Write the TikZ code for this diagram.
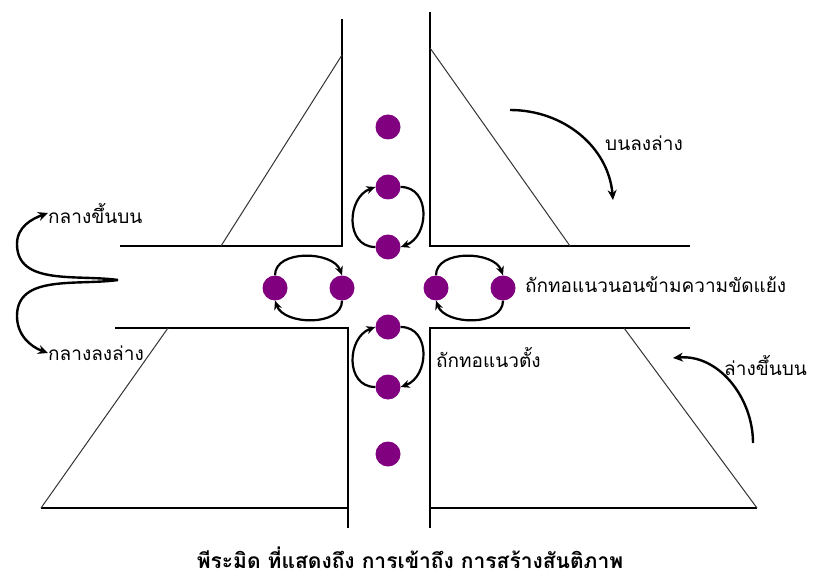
\documentclass[tikz,border=0pt]{standalone}
\usepackage{fontspec}
\newfontfamily\thai[Script=Thai]{Loma}
\usetikzlibrary{arrows.meta}
\begin{document}
\begin{tikzpicture}[x=1pt,y=1pt,
  wall/.style={line width=1.4pt,black},
  slant/.style={line width=1pt,black!80},
  dot/.style={circle,fill=purpdot,minimum size=25pt,inner sep=0pt},
  cyc/.style={line width=2.2pt,-{Stealth[length=9pt,width=8pt]}},
  bigarr/.style={line width=2.4pt,-{Stealth[length=10pt,width=9pt]}},
  lab/.style={font=\thai\fontsize{19}{21}\selectfont,inner sep=0pt,anchor=west}]
\definecolor{purpdot}{RGB}{128,0,128}
\useasboundingbox (0,0) rectangle (818,579);
% structure
\draw[wall] (342,560) -- (342,333) -- (120,333);
\draw[slant] (221,333) -- (342,524);
\draw[wall] (115,251) -- (348,251) -- (348,51);
\draw[wall] (41,71) -- (348,71);
\draw[slant] (41,71) -- (168,251);
\draw[wall] (430,567) -- (430,333) -- (690,333);
\draw[slant] (430,531) -- (570,333);
\draw[wall] (690,251) -- (430,251) -- (430,51);
\draw[wall] (430,71) -- (757,71);
\draw[slant] (624,251) -- (757,71);
% dots
\node[dot] (c0) at (388,452) {};
\node[dot] (v1) at (388,392) {};
\node[dot] (v2) at (388,332) {};
\node[dot] (u1) at (388,252) {};
\node[dot] (u2) at (388,192) {};
\node[dot] (c5) at (388,125) {};
\node[dot] (h1) at (275,291) {};
\node[dot] (h2) at (342,291) {};
\node[dot] (r1) at (436,291) {};
\node[dot] (r2) at (503,291) {};
% circulating arrows
\draw[cyc] (v2.west) to[out=180,in=200,looseness=1.3] (v1.west);
\draw[cyc] (v1.east) to[out=0,in=20,looseness=1.3] (v2.east);
\draw[cyc] (u2.west) to[out=180,in=200,looseness=1.3] (u1.west);
\draw[cyc] (u1.east) to[out=0,in=20,looseness=1.3] (u2.east);
\draw[cyc] (h1.north) to[out=90,in=110] (h2.north);
\draw[cyc] (h2.south) to[out=-90,in=-70] (h1.south);
\draw[cyc] (r1.north) to[out=90,in=110] (r2.north);
\draw[cyc] (r2.south) to[out=-90,in=-70] (r1.south);
% labels
\node[lab] (tup) at (48,366) {กลางขึ้นบน};
\node[lab] (tdn) at (48,226) {กลางลงล่าง};
\node[lab] (tbl) at (605,436) {บนลงล่าง};
\node[lab] (tlb) at (724,214) {ล่างขึ้นบน};
\node[lab] (thz) at (525,294) {ถักทอแนวนอนข้ามความขัดแย้ง};
\node[lab] (tvt) at (436,222) {ถักทอแนวตั้ง};
\node[font=\thai\bfseries\fontsize{21}{23}\selectfont,inner sep=0pt,anchor=base] (cap) at (410,11) {พีระมิด ที่แสดงถึง การเข้าถึง การสร้างสันติภาพ};
% big arrows
\coordinate (J) at (118,299);
\draw[bigarr] (J) to[out=172,in=-90] (17,335) to[out=90,in=200] (tup.west);
\draw[bigarr] (J) to[out=188,in=90] (17,263) to[out=-90,in=160] (tdn.west);
\coordinate (sbl) at (510,469);
\coordinate (ebl) at (613,379);
\draw[bigarr] (sbl) to[out=0,in=95] (ebl);
\coordinate (slb) at (753,136);
\coordinate (elb) at (673,221);
\draw[bigarr] (slb) to[out=90,in=5] (elb);
\end{tikzpicture}
\end{document}
